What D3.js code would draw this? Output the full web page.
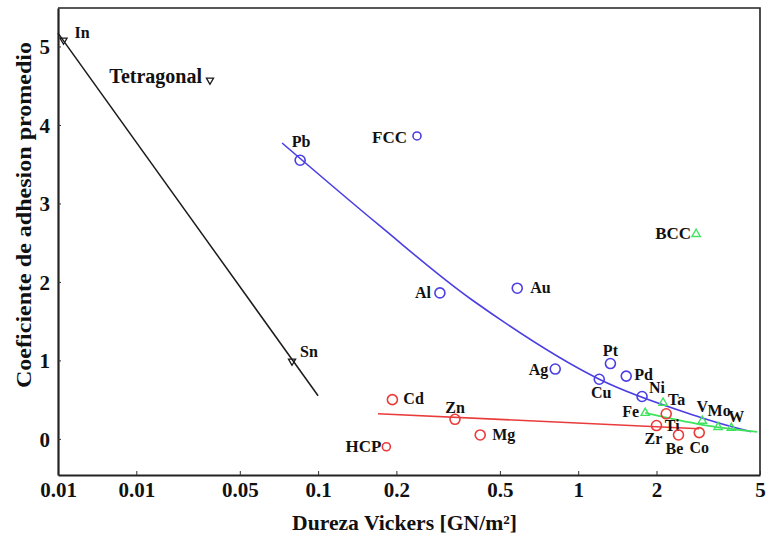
<!DOCTYPE html>
<html>
<head>
<meta charset="utf-8">
<script src="https://cdn.jsdelivr.net/npm/d3@7"></script>
<style>
  html, body { margin: 0; padding: 0; background: #fff; }
  svg { display: block; }
  text { font-family: "Liberation Serif", "Times New Roman", serif; font-weight: bold; fill: #111; }
</style>
</head>
<body>
<svg id="chart" width="766" height="541"></svg>
<script>
// Hardness (GN/m^2) and mean adhesion coefficient per metal, grouped by crystal structure
const fccNames = ["Pb", "Al", "Au", "Ag", "Cu", "Pt", "Pd", "Ni"];
const fccHardness = [0.0853, 0.294, 0.583, 0.816, 1.205, 1.33, 1.53, 1.76];
const fccAdhesion = [3.55, 1.86, 1.92, 0.89, 0.76, 0.96, 0.80, 0.54];

const hcpNames = ["Cd", "Zn", "Mg", "Ti", "Zr", "Be", "Co"];
const hcpHardness = [0.193, 0.336, 0.420, 2.18, 2.0, 2.43, 2.92];
const hcpAdhesion = [0.50, 0.25, 0.05, 0.32, 0.17, 0.05, 0.08];

const bccNames = ["Fe", "Ta", "V", "Mo", "W"];
const bccHardness = [1.81, 2.12, 3.0, 3.45, 3.88];
const bccAdhesion = [0.33, 0.46, 0.23, 0.15, 0.14];

const tetraNames = ["In", "Sn"];
const tetraHardness = [0.0105, 0.0794];
const tetraAdhesion = [5.08, 0.99];

// Trend lines for each structure
const fccFitHardness = [0.0727, 0.172, 0.391, 1.205, 2.92, 4.63];
const fccFitAdhesion = [3.77, 2.72, 1.77, 0.76, 0.28, 0.09];
const hcpFitHardness = [0.170, 2.92];
const hcpFitAdhesion = [0.32, 0.13];
const bccFitHardness = [1.81, 3.0, 4.88];
const bccFitAdhesion = [0.33, 0.18, 0.09];
const tetraFitHardness = [0.01, 0.1];
const tetraFitAdhesion = [5.17, 0.55];

// In-plot keys for the four structures
const keyNames = ["FCC", "BCC", "HCP", "Tetragonal"];
const keyHardness = [0.240, 2.84, 0.183, 0.0384];
const keyAdhesion = [3.86, 2.61, -0.10, 4.57];

// Axis ticks
const xTickValues = [0.01, 0.02, 0.05, 0.1, 0.2, 0.5, 1, 2, 5];
const xTickLabels = ["0.01", "0.01", "0.05", "0.1", "0.2", "0.5", "1", "2", "5"];
const yTickValues = [0, 1, 2, 3, 4, 5];

const xTitle = "Dureza Vickers [GN/m²]";
const yTitle = "Coeficiente de adhesion promedio";

// ---- layout ----
const margin = { left: 58, top: 8, right: 6, bottom: 66 };
const W = 766, H = 541;
const innerW = W - margin.left - margin.right;
const innerH = H - margin.top - margin.bottom;

const colors = { fcc: "#4b3fe3", hcp: "#ea3b3b", bcc: "#3fe35e", tetra: "#1a1a1a" };

// label placement around each marker: [dx, dy, anchor]
const labelPlace = {
  In: [11, -2, "start"], Sn: [8, -4, "start"],
  Pb: [1, -13, "middle"], Al: [-9, 5, "end"], Au: [13, 5, "start"],
  Ag: [-7, 6, "end"], Cu: [2, 19, "middle"], Pt: [0, -8, "middle"],
  Pd: [8, 4, "start"], Ni: [7, -4, "start"],
  Cd: [11, 4, "start"], Zn: [0, -6, "middle"], Mg: [12, 5, "start"],
  Ti: [6, 17, "middle"], Zr: [-3, 18, "middle"], Be: [-4, 19, "middle"], Co: [0, 20, "middle"],
  Fe: [-6, 4, "end"], Ta: [5, 2, "start"], V: [0, -9, "middle"], Mo: [1, -11, "middle"], W: [5, -6, "middle"],
  FCC: [-10, 7, "end"], BCC: [-5, 5, "end"], HCP: [-5, 5, "end"], Tetragonal: [-8, 3, "end"]
};

const svg = d3.select("#chart");
const g = svg.append("g").attr("transform", `translate(${margin.left},${margin.top})`);

const x = d3.scaleLog().domain([0.01, 5]).range([0, innerW]);
const y = d3.scaleLinear().domain([-0.46, 5.49]).range([innerH, 0]);

// frame (top and right)
g.append("path")
  .attr("d", `M0,0H${innerW}V${innerH}`)
  .attr("fill", "none").attr("stroke", "#222").attr("stroke-width", 1.6);

// axes
const xAxis = d3.axisBottom(x)
  .tickValues(xTickValues)
  .tickFormat((d, i) => xTickLabels[i])
  .tickSizeInner(-4).tickSizeOuter(0);
const xg = g.append("g").attr("transform", `translate(0,${innerH})`).call(xAxis);
xg.selectAll("text").attr("y", 22).attr("dy", 0)
  .style("font-size", "21px").style("font-family", "Liberation Serif, serif").style("font-weight", "bold").attr("fill", "#111");

const yAxis = d3.axisLeft(y).tickValues(yTickValues).tickFormat(d3.format("d"))
  .tickSizeInner(-3).tickSizeOuter(0);
const yg = g.append("g").call(yAxis);
yg.selectAll("text").attr("x", -8).attr("dy", "0.35em")
  .style("font-size", "21px").style("font-family", "Liberation Serif, serif").style("font-weight", "bold").attr("fill", "#111");

[xg, yg].forEach(a => {
  a.select(".domain").attr("stroke", "#222").attr("stroke-width", 2.2);
  a.selectAll(".tick line").attr("stroke", "#333").attr("stroke-width", 1);
});

// axis titles
svg.append("text")
  .attr("x", 404.5).attr("y", 530)
  .attr("text-anchor", "middle")
  .attr("textLength", 225).attr("lengthAdjust", "spacingAndGlyphs")
  .style("font-size", "21px")
  .text(xTitle);

svg.append("text")
  .attr("transform", "translate(31,215) rotate(-90)")
  .attr("text-anchor", "middle")
  .attr("textLength", 346).attr("lengthAdjust", "spacingAndGlyphs")
  .style("font-size", "22px")
  .text(yTitle);

// trend lines
const zip = (xs, ys) => xs.map((v, i) => [v, ys[i]]);
const line = d3.line().x(d => x(d[0])).y(d => y(d[1]));
const smooth = d3.line().x(d => x(d[0])).y(d => y(d[1])).curve(d3.curveCatmullRom.alpha(0.5));

g.append("path").datum(zip(tetraFitHardness, tetraFitAdhesion)).attr("d", line)
  .attr("fill", "none").attr("stroke", colors.tetra).attr("stroke-width", 1.5);
g.append("path").datum(zip(hcpFitHardness, hcpFitAdhesion)).attr("d", line)
  .attr("fill", "none").attr("stroke", colors.hcp).attr("stroke-width", 1.6);
g.append("path").datum(zip(fccFitHardness, fccFitAdhesion)).attr("d", smooth)
  .attr("fill", "none").attr("stroke", colors.fcc).attr("stroke-width", 1.6);
g.append("path").datum(zip(bccFitHardness, bccFitAdhesion)).attr("d", smooth)
  .attr("fill", "none").attr("stroke", colors.bcc).attr("stroke-width", 1.8);

// markers
const triUp = d3.symbol().type(d3.symbolTriangle).size(30);
const triDown = d3.symbol().type(d3.symbolTriangle).size(22);

function drawMarker(sel, kind, color, small) {
  if (kind === "circle") {
    sel.append("circle").attr("r", small ? 4 : 5)
      .attr("fill", "none").attr("stroke", color).attr("stroke-width", 1.6);
  } else if (kind === "up") {
    sel.append("path").attr("d", triUp())
      .attr("fill", "none").attr("stroke", color).attr("stroke-width", 1.4);
  } else {
    sel.append("path").attr("d", triDown()).attr("transform", "rotate(180)")
      .attr("fill", "none").attr("stroke", color).attr("stroke-width", 1.3);
  }
}

function drawSeries(names, hs, as, kind, color) {
  const pts = g.append("g").selectAll("g")
    .data(names.map((n, i) => ({ n, h: hs[i], a: as[i] })))
    .join("g")
    .attr("transform", d => `translate(${x(d.h)},${y(d.a)})`);
  pts.each(function () { drawMarker(d3.select(this), kind, color, false); });
  pts.append("text")
    .attr("x", d => labelPlace[d.n][0]).attr("y", d => labelPlace[d.n][1])
    .attr("text-anchor", d => labelPlace[d.n][2])
    .style("font-size", "16px")
    .text(d => d.n);
}

drawSeries(tetraNames, tetraHardness, tetraAdhesion, "down", colors.tetra);
drawSeries(hcpNames, hcpHardness, hcpAdhesion, "circle", colors.hcp);
drawSeries(bccNames, bccHardness, bccAdhesion, "up", colors.bcc);
drawSeries(fccNames, fccHardness, fccAdhesion, "circle", colors.fcc);

// structure keys
const keyKinds = ["circle", "up", "circle", "down"];
const keyColors = [colors.fcc, colors.bcc, colors.hcp, colors.tetra];
const keys = g.append("g").selectAll("g")
  .data(keyNames.map((n, i) => ({ n, h: keyHardness[i], a: keyAdhesion[i], kind: keyKinds[i], c: keyColors[i] })))
  .join("g")
  .attr("transform", d => `translate(${x(d.h)},${y(d.a)})`);
keys.each(function (d) { drawMarker(d3.select(this), d.kind, d.c, true); });
keys.append("text")
  .attr("x", d => labelPlace[d.n][0]).attr("y", d => labelPlace[d.n][1])
  .attr("text-anchor", d => labelPlace[d.n][2])
  .style("font-size", d => d.n === "Tetragonal" ? "20px" : "17px")
  .text(d => d.n);
</script>
</body>
</html>
